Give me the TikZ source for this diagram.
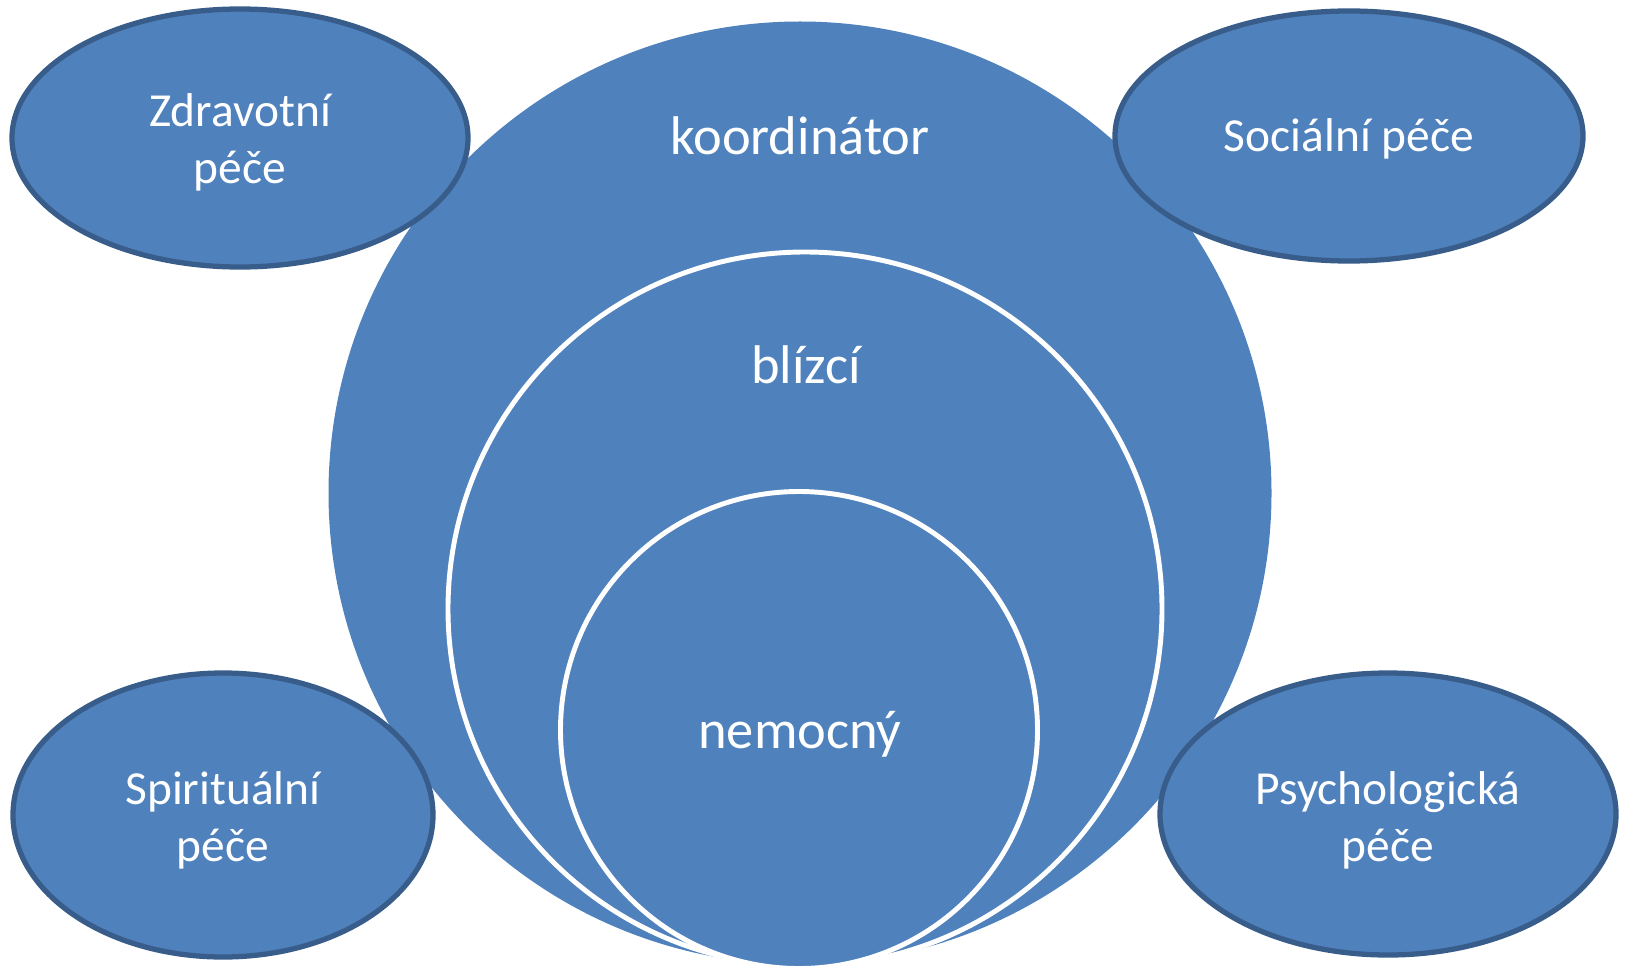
\documentclass[tikz,border=0pt]{standalone}
\usepackage{fontspec}
\setmainfont{Carlito}
\definecolor{careblue}{RGB}{79,129,189}
\definecolor{careedge}{RGB}{56,93,138}

\begin{document}
\begin{tikzpicture}[x=0.02cm, y=-0.02cm,
  ring/.style={fill=careblue, draw=white, line width=2.8pt},
  area/.style={fill=careblue, draw=careedge, line width=3pt},
  inner/.style={text=white, font=\fontsize{31}{37}\selectfont},
  outer/.style={text=white, align=center, font=\fontsize{27}{32.4}\selectfont}]
\useasboundingbox (0,0) rectangle (1625,966);

\fill[careblue] (800,493) circle (471.5);
\draw[ring] (805,609) circle (357);
\draw[ring] (799,730) circle (238.5);

\draw[area] (240,138) ellipse (228 and 129);
\draw[area] (1349,136) ellipse (234 and 125);
\draw[area] (223,815) ellipse (210 and 142);
\draw[area] (1388,814) ellipse (228 and 141);

\node[inner] (koord) at (800,136) {koordinátor};
\node[inner] (blizci) at (806,365) {blízcí};
\node[inner] (nemocny) at (800,734) {nemocný};

\node[outer] (zdrav) at (240,142) {Zdravotní\\péče};
\node[outer] (soc) at (1349,139) {Sociální péče};
\node[outer] (spir) at (223,820) {Spirituální\\péče};
\node[outer] (psych) at (1388,820) {Psychologická\\péče};
\end{tikzpicture}
\end{document}
